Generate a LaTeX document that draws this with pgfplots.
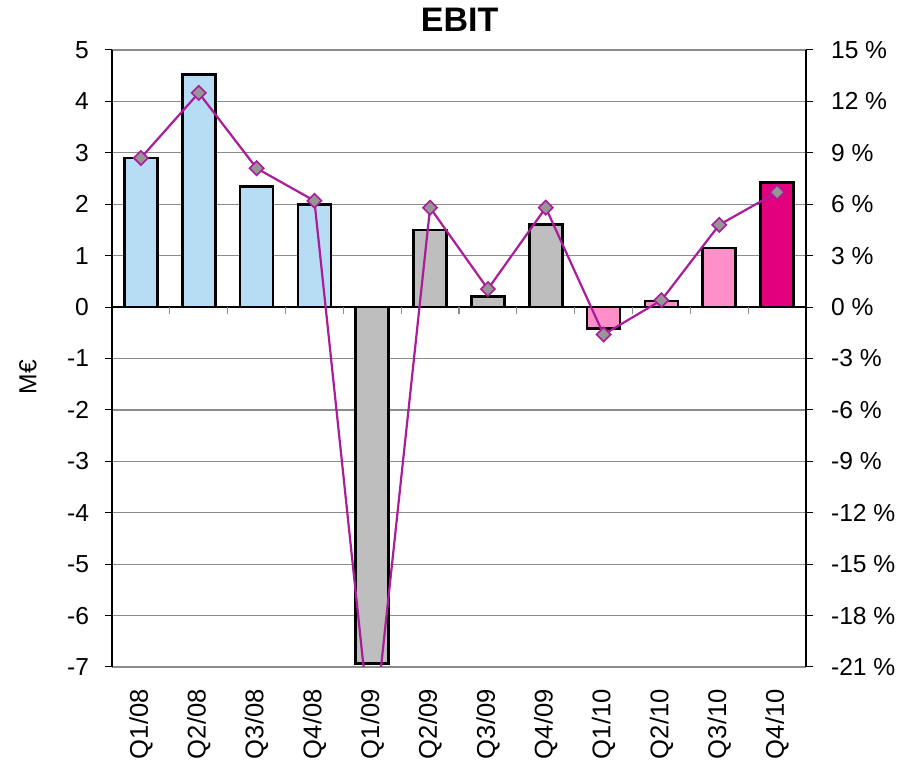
\documentclass[border=0pt]{standalone}
\usepackage{pgfplots}
\pgfplotsset{compat=1.18}
\usepackage{fontspec}
\setmainfont{Liberation Sans}

\definecolor{barblue}{RGB}{183,221,245}
\definecolor{bargray}{RGB}{190,190,190}
\definecolor{barpink}{RGB}{255,143,200}
\definecolor{bardeep}{RGB}{227,0,125}
\definecolor{linepurple}{RGB}{170,28,154}
\definecolor{markgray}{RGB}{150,150,150}
\definecolor{gridgray}{RGB}{140,140,140}

\begin{document}
\begin{tikzpicture}[x=1pt,y=1pt]
\path[use as bounding box] (-56pt,-48pt) rectangle (401.5pt,333.5pt);

\pgfplotsset{
  chartbase/.style={
    scale only axis,
    width=347pt, height=308.5pt,
    at={(0,0)}, anchor=south west,
    xmin=-0.5, xmax=11.5,
    tick align=outside,
    major tick length=3.5pt,
    tick style={black, line width=0.5pt},
    /pgf/number format/assume math mode=true,
    tick label style={font=\fontsize{12.3}{14}\selectfont},
  }
}

% EBIT in M€ (bars, left axis)
\begin{axis}[
  chartbase,
  ymin=-7, ymax=5,
  ytick={-7,-6,...,5},
  yticklabel style={xshift=-4.5pt},
  axis y line*=left,
  axis x line*=bottom,
  x axis line style={draw=none},
  xtick={0,...,11},
  xtick style={draw=none},
  xticklabels={Q1/08,Q2/08,Q3/08,Q4/08,Q1/09,Q2/09,Q3/09,Q4/09,Q1/10,Q2/10,Q3/10,Q4/10},
  xticklabel style={rotate=90, anchor=east, inner sep=0pt, xshift=-7.5pt,
    font=\fontsize{12.8}{14}\selectfont},
  ymajorgrids,
  grid style={gridgray, line width=0.6pt},
  y axis line style={black, line width=0.6pt},
  ybar, bar width=16.5pt, bar shift=0pt,
  every axis plot/.append style={draw=black, line width=1.4pt},
  clip=false,
]
\addplot[fill=barblue] coordinates {(0,2.90) (1,4.53) (2,2.35) (3,2.00)};
\addplot[fill=bargray] coordinates {(4,-6.93) (5,1.50) (6,0.21) (7,1.60)};
\addplot[fill=barpink] coordinates {(8,-0.42) (9,0.12) (10,1.15)};
\addplot[fill=bardeep] coordinates {(11,2.42)};

% category axis through zero with separators between quarters
\draw[black, line width=0.6pt] (axis cs:-0.5,0) -- (axis cs:11.5,0);
\pgfplotsinvokeforeach{0.5,1.5,2.5,3.5,4.5,5.5,6.5,7.5,8.5,9.5,10.5}{
  \draw[gridgray, line width=0.6pt] (axis cs:#1,0) -- ([yshift=-3.5pt]axis cs:#1,0);
}

\node[rotate=90, font=\fontsize{12.3}{14}\selectfont] at ([xshift=-42pt]rel axis cs:0,0.47) {M€};
\node[font=\bfseries\fontsize{17}{20}\selectfont] at ([yshift=15pt]rel axis cs:0.501,1) {EBIT};
\end{axis}

% EBIT margin in % (line, right axis)
\begin{axis}[
  chartbase,
  ymin=-21, ymax=15,
  ytick={-21,-18,...,15},
  yticklabel={\pgfmathprintnumber{\tick}~\%},
  yticklabel style={xshift=5.5pt},
  axis y line*=right,
  axis x line=none,
  y axis line style={black, line width=0.6pt},
]
\addplot[linepurple, line width=1.1pt, mark=square*,
  mark size=2.5pt,
  mark options={rotate=45, fill=markgray, draw=linepurple, line width=0.8pt}]
  coordinates {
  (0,8.7) (1,12.5) (2,8.1) (3,6.2) (4,-25.8) (5,5.8)
  (6,1.05) (7,5.8) (8,-1.6) (9,0.4) (10,4.8) (11,6.7)
};
\node[rotate=90, font=\fontsize{12.3}{14}\selectfont] at ([xshift=45.5pt]rel axis cs:1,0.566) {EBIT margin};
\end{axis}
\end{tikzpicture}
\end{document}
